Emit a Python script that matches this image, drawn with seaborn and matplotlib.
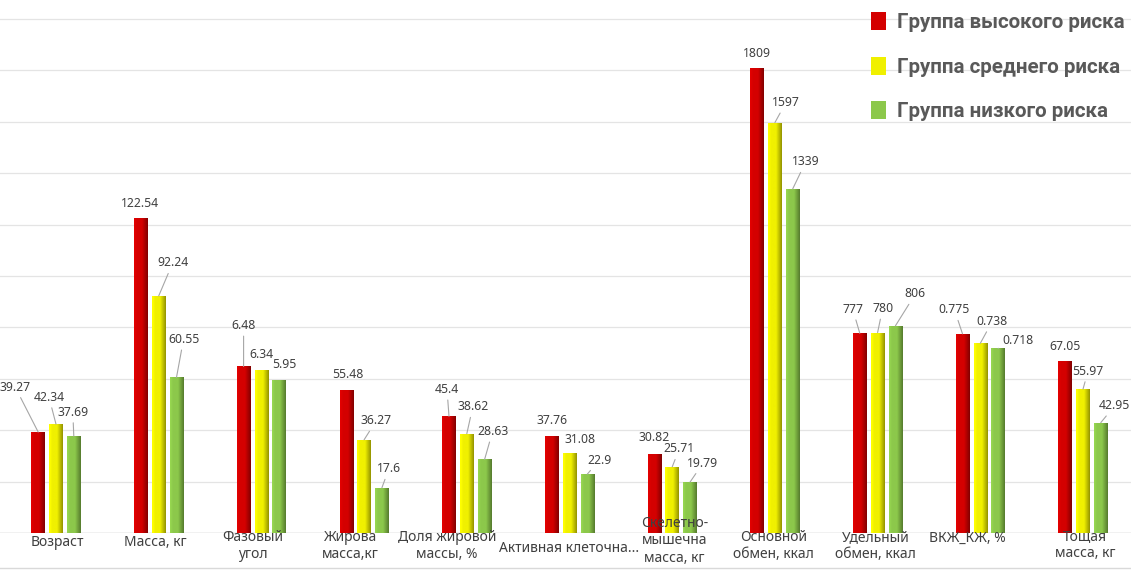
import numpy as np
import pandas as pd
import seaborn as sb
import matplotlib.pyplot as plt
from matplotlib.lines import Line2D
from matplotlib.colors import to_rgb

# categories as shown under the bars
categories = ['Возраст', 'Масса, кг', 'Фазовый\nугол', 'Жирова\nмасса,кг',
              'Доля жировой\nмассы, %', 'Активная клеточна...',
              'Скелетно-\nмышечна\nмасса, кг', 'Основной\nобмен, ккал',
              'Удельный\nобмен, ккал', 'ВКЖ_КЖ, %', 'Тощая\nмасса, кг']
groups = ['Группа высокого риска', 'Группа среднего риска', 'Группа низкого риска']

high_risk = [39.27, 122.54, 6.48, 55.48, 45.4, 37.76, 30.82, 1809, 777, 0.775, 67.05]
mid_risk = [42.34, 92.24, 6.34, 36.27, 38.62, 31.08, 25.71, 1597, 780, 0.738, 55.97]
low_risk = [37.69, 60.55, 5.95, 17.6, 28.63, 22.9, 19.79, 1339, 806, 0.718, 42.95]

# display scale for each category (the chart mixes units on one axis)
display_scale = [1, 1, 10, 1, 1, 1, 1, 0.1, 0.1, 100, 1]

colors = ['#d40000', '#f0f000', '#8cc84b']

# label offsets in pixels (dx, dy) from top-centre of each bar
label_off = [
    [(-23, 45), (-7, 27), (-1, 24)],
    [(-1, 15), (14, 33), (7, 38)],
    [(0, 41), (0, 16), (5, 16)],
    [(2, 16), (12, 19), (7, 19)],
    [(-2, 27), (6, 27), (8, 28)],
    [(0, 15), (11, 14), (12, 14)],
    [(0, 16), (7, 18), (13, 19)],
    [(0, 15), (11, 20), (13, 27)],
    [(-7, 24), (5, 24), (20, 32)],
    [(-8, 24), (12, 22), (20, 8)],
    [(0, 14), (5, 18), (14, 17)],
]
# category label positions: (dx from yellow bar centre, y centre in px)
cat_pos = [(1, 542), (-3, 542), (-9, 546), (-14, 546), (-20, 546), (0, 548),
           (2, 541), (-1, 546), (-2, 546), (-13, 538), (2, 545)]

rows = []
for i, c in enumerate(categories):
    for g, vals in zip(groups, [high_risk, mid_risk, low_risk]):
        rows.append({'cat': c, 'group': g, 'value': vals[i],
                     'shown': vals[i] * display_scale[i]})
df = pd.DataFrame(rows)

W, H = 1131, 572
fig = plt.figure(figsize=(W / 100, H / 100), dpi=100)
base_y = 533
ax = fig.add_axes([0, (H - base_y) / H, 1, base_y / H])

sb.barplot(data=df, x='cat', y='shown', hue='group', palette=colors,
           width=0.52, gap=0.24, saturation=1, ax=ax, zorder=3)

# gradient shading on bars (light left, dark right)
bars = [p for p in ax.patches if p.get_height() > 0]
ramp = np.concatenate([np.linspace(1.08, 1.0, 8), np.ones(10), np.linspace(1.0, 0.62, 14)])
for p in bars:
    rgb = np.array(to_rgb(p.get_facecolor()))
    img = np.clip(rgb[None, None, :] * ramp[None, :, None], 0, 1)
    x0, w, h = p.get_x(), p.get_width(), p.get_height()
    im = ax.imshow(img, extent=[x0, x0 + w, 0, h], aspect='auto',
                   interpolation='bilinear', zorder=3.5)
    im.set_clip_path(p)

ypx = 514 / 200.0
ax.set_xlim((0 - 56) / 102.7, (W - 56) / 102.7)
ax.set_ylim(0, base_y / ypx)
ax.set_yticks(np.arange(0, 201, 20))
ax.yaxis.grid(True, color='#e4e4e4', lw=0.9)
ax.set_axisbelow(True)
ax.tick_params(left=False, bottom=False, labelleft=False, labelbottom=False)
for s in ax.spines.values():
    s.set_visible(False)
ax.axhline(0, color='#c8c8c8', lw=1.0, zorder=2)
ax.set_xlabel('')
ax.set_ylabel('')

lab_font = ['Noto Sans', 'DejaVu Sans']
# data labels
for k, cont in enumerate(ax.containers):
    for i, p in enumerate(cont.patches):
        val = df[(df['group'] == groups[k])]['value'].iloc[i]
        xc = p.get_x() + p.get_width() / 2
        top = p.get_height()
        dx, dy = label_off[i][k]
        txt = f'{val:g}'
        lead = dy >= 17 or abs(dx) >= 12
        ax.annotate(txt, xy=(xc, top), xytext=(dx, dy), textcoords='offset pixels',
                    ha='center', va='center', fontsize=8.8, color='#404040',
                    family=lab_font, zorder=6,
                    arrowprops=dict(arrowstyle='-', color='#a6a6a6', lw=0.8,
                                    shrinkA=1, shrinkB=0) if lead else None)

# category labels
for i, c in enumerate(categories):
    dx, yc = cat_pos[i]
    ax.annotate(c, xy=(i, 0), xytext=(dx, base_y - yc), textcoords='offset pixels',
                ha='center', va='center', fontsize=10, color='#404040',
                family=lab_font, linespacing=1.25, annotation_clip=False, zorder=7)

# legend
handles, labels = ax.get_legend_handles_labels()
leg = ax.legend(handles, labels, loc='upper right', bbox_to_anchor=(1.002, 0.993),
                bbox_transform=fig.transFigure, frameon=False, borderaxespad=0,
                handlelength=0.72, handleheight=0.95, handletextpad=0.55,
                labelspacing=1.2, labelcolor='#595959',
                prop={'family': ['Roboto', 'DejaVu Sans'], 'weight': 'bold', 'size': 14.8})

fig.add_artist(Line2D([0, 1], [(H - 568) / H] * 2, color='#d9d9d9', lw=1.0,
                      transform=fig.transFigure))

fig.savefig('out.png', dpi=100)
